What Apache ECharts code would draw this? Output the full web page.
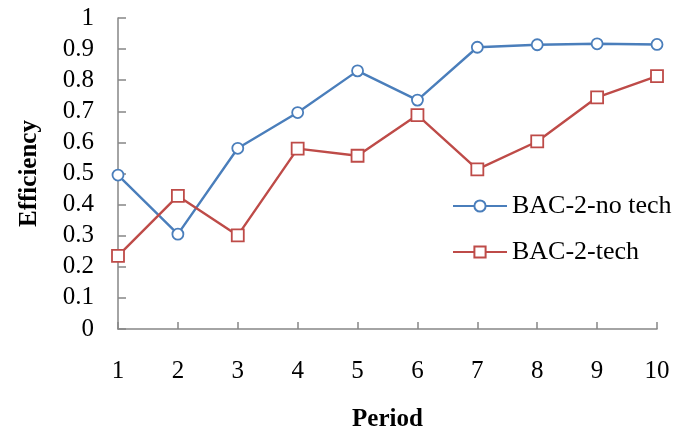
<!DOCTYPE html>
<html><head><meta charset="utf-8">
<script src="https://cdn.jsdelivr.net/npm/echarts@6/dist/echarts.min.js"></script>
<style>html,body{margin:0;padding:0;background:#fff}#c{width:677px;height:436px}</style>
</head><body><div id="c"></div>
<script>
const periods = ['1','2','3','4','5','6','7','8','9','10'];
const noTech = [0.495, 0.305, 0.581, 0.696, 0.830, 0.736, 0.906, 0.914, 0.917, 0.915];
const tech = [0.235, 0.428, 0.301, 0.580, 0.557, 0.688, 0.513, 0.603, 0.745, 0.813];
const seriesNames = ['BAC-2-no tech', 'BAC-2-tech'];
const font = 'Liberation Serif';
const chart = echarts.init(document.getElementById('c'));
chart.setOption({
  animation: false,
  textStyle: {fontFamily: font},
  grid: {left: 118, right: 20, top: 18, bottom: 107, containLabel: false, outerBoundsMode: 'none'},
  legend: {
    orient: 'vertical', left: 452, top: 193, padding: 0, itemWidth: 54, itemHeight: 14, itemGap: 20,
    textStyle: {fontFamily: font, fontSize: 26, color: '#000'},
    data: seriesNames
  },
  xAxis: {
    type: 'category', data: periods, boundaryGap: false,
    name: 'Period', nameLocation: 'middle', nameGap: 78,
    nameTextStyle: {fontFamily: font, fontSize: 25, fontWeight: 'bold', color: '#000'},
    axisLine: {lineStyle: {color: '#868686', width: 1.5}},
    axisTick: {inside: true, length: 7, lineStyle: {color: '#868686', width: 1.5}},
    axisLabel: {fontFamily: font, fontSize: 25, color: '#000', margin: 30},
    splitLine: {show: false}
  },
  yAxis: {
    type: 'value', min: 0, max: 1, interval: 0.1,
    name: 'Efficiency', nameLocation: 'middle', nameRotate: 90, nameGap: 76,
    nameTextStyle: {fontFamily: font, fontSize: 25, fontWeight: 'bold', color: '#000'},
    axisLine: {show: true, lineStyle: {color: '#868686', width: 1.5}},
    axisTick: {show: true, inside: true, length: 8, lineStyle: {color: '#868686', width: 1.5}},
    axisLabel: {fontFamily: font, fontSize: 25, color: '#000', margin: 24,
      formatter: v => String(Math.round(v * 10) / 10)},
    splitLine: {show: false}
  },
  series: [
    {name: seriesNames[0], type: 'line', data: noTech, symbol: 'circle', symbolSize: 11,
     lineStyle: {color: '#4A7EBB', width: 2.4},
     itemStyle: {color: '#fff', borderColor: '#4A7EBB', borderWidth: 1.8}},
    {name: seriesNames[1], type: 'line', data: tech, symbol: 'rect', symbolSize: 12,
     lineStyle: {color: '#BE4B48', width: 2.4},
     itemStyle: {color: '#fff', borderColor: '#BE4B48', borderWidth: 1.8}}
  ]
});
</script></body></html>
